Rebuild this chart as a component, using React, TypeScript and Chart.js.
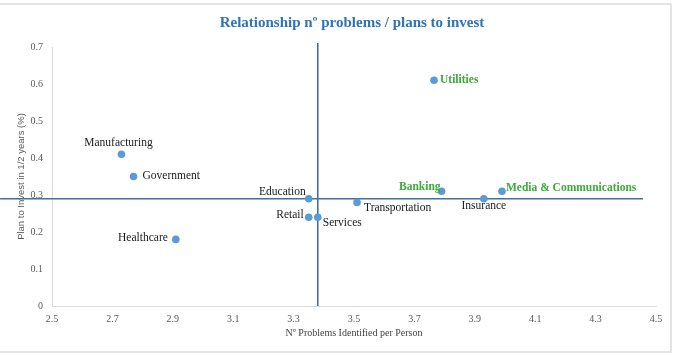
import React, { useEffect, useRef } from "react";
import { Chart, registerables } from "chart.js";

Chart.register(...registerables);

const CATEGORIES = [
  "Manufacturing",
  "Government",
  "Healthcare",
  "Education",
  "Retail",
  "Services",
  "Transportation",
  "Utilities",
  "Banking",
  "Insurance",
  "Media & Communications",
];
const PROBLEMS_PER_PERSON = [2.73, 2.77, 2.91, 3.35, 3.35, 3.38, 3.51, 3.765, 3.79, 3.93, 3.99];
const PLAN_TO_INVEST = [0.41, 0.35, 0.18, 0.29, 0.24, 0.24, 0.28, 0.61, 0.31, 0.29, 0.31];
const HIGHLIGHTED = ["Utilities", "Banking", "Media & Communications"];

const AVG_PROBLEMS = 3.38;
const AVG_INVEST = 0.29;
const H_LINE_X = [2.328, 4.457];
const V_LINE_Y = [0, 0.711];

const X_MIN = 2.5;
const X_MAX = 4.5;
const X_STEP = 0.2;
const Y_MIN = 0;
const Y_MAX = 0.7;
const Y_STEP = 0.1;

const TITLE = "Relationship nº problems / plans to invest";
const X_TITLE = "Nº Problems Identified per Person";
const Y_TITLE = "Plan to Invest in 1/2 years (%)";

const SERIF = "'Liberation Serif', 'Times New Roman', serif";
const SANS = "'Liberation Sans', Arial, sans-serif";

// label placement: [textAlign, dx, dy]
const PLACEMENT: Record<string, [CanvasTextAlign, number, number]> = {
  Manufacturing: ["center", -3, -11],
  Government: ["left", 9, -1],
  Healthcare: ["right", -8, -1],
  Education: ["right", -3, -7],
  Retail: ["right", -5, -2],
  Services: ["left", 5, 6],
  Transportation: ["left", 7, 6],
  Utilities: ["left", 6, 0],
  Banking: ["right", -1, -4],
  Insurance: ["center", 0, 7],
  "Media & Communications": ["left", 4, -3],
};

const decorPlugin = {
  id: "decor",
  beforeDraw(chart: any) {
    const ctx = chart.ctx;
    ctx.save();
    ctx.fillStyle = "#ffffff";
    ctx.fillRect(0, 0, chart.width, chart.height);
    ctx.strokeStyle = "#e4e4e4";
    ctx.lineWidth = 2;
    ctx.strokeRect(-2, 4, 673, 348);
    ctx.fillStyle = "#2E75B6";
    ctx.font = `bold 15px ${SERIF}`;
    ctx.textAlign = "center";
    ctx.textBaseline = "middle";
    ctx.fillText(TITLE, 352, 23);
    ctx.restore();
  },
  afterDatasetsDraw(chart: any) {
    const ctx = chart.ctx;
    const meta = chart.getDatasetMeta(0);
    ctx.save();
    ctx.textBaseline = "middle";
    CATEGORIES.forEach((name, i) => {
      const el = meta.data[i];
      if (!el) return;
      const [align, dx, dy] = PLACEMENT[name] || ["left", 6, 0];
      const hl = HIGHLIGHTED.includes(name);
      ctx.font = `${hl ? "bold " : ""}11.5px ${SERIF}`;
      ctx.fillStyle = hl ? "#3DAA3A" : "#1a1a1a";
      ctx.textAlign = align;
      ctx.fillText(name, el.x + dx, el.y + dy);
    });
    ctx.restore();
  },
};

export default function App() {
  const ref = useRef<HTMLCanvasElement | null>(null);

  useEffect(() => {
    document.body.style.margin = "0";
    const canvas = ref.current;
    if (!canvas) return;
    const points = PROBLEMS_PER_PERSON.map((x, i) => ({ x, y: PLAN_TO_INVEST[i] }));
    const chart = new Chart(canvas, {
      type: "scatter",
      data: {
        datasets: [
          {
            label: "Industries",
            data: points,
            backgroundColor: "#5B9BD5",
            borderWidth: 0,
            pointRadius: 3.8,
            pointHoverRadius: 3.8,
          },
          {
            label: "Avg invest",
            type: "line",
            data: H_LINE_X.map((x) => ({ x, y: AVG_INVEST })),
            borderColor: "#41709C",
            borderWidth: 1.6,
            pointRadius: 0,
            showLine: true,
            clip: false as any,
          } as any,
          {
            label: "Avg problems",
            type: "line",
            data: V_LINE_Y.map((y) => ({ x: AVG_PROBLEMS, y })),
            borderColor: "#41709C",
            borderWidth: 1.6,
            pointRadius: 0,
            showLine: true,
            clip: false as any,
          } as any,
        ],
      },
      options: {
        responsive: false,
        animation: false,
        events: [],
        layout: { padding: { left: 0, top: 47, right: 20, bottom: 0 } },
        plugins: {
          legend: { display: false },
          tooltip: { enabled: false },
          title: { display: false },
        },
        scales: {
          x: {
            type: "linear",
            min: X_MIN,
            max: X_MAX,
            grid: { display: false, drawTicks: false },
            border: { display: true, color: "#d9d9d9", width: 1 },
            ticks: {
              stepSize: X_STEP,
              padding: 7,
              color: "#595959",
              font: { family: SERIF, size: 10 },
              callback: (v: any) => Number(v).toFixed(1),
            },
            title: {
              display: true,
              text: X_TITLE,
              color: "#404040",
              font: { family: SERIF, size: 10 },
              padding: { top: 0, bottom: 16 },
            },
            afterFit: (scale: any) => {
              scale.height = 355 - 306;
            },
          },
          y: {
            type: "linear",
            min: Y_MIN,
            max: Y_MAX,
            grid: { display: false, drawTicks: false },
            border: { display: true, color: "#d9d9d9", width: 1 },
            ticks: {
              stepSize: Y_STEP,
              padding: 9,
              color: "#595959",
              font: { family: SERIF, size: 10 },
              callback: (v: any) => (Number(v) === 0 ? "0" : Number(v).toFixed(1)),
            },
            title: {
              display: true,
              text: Y_TITLE,
              color: "#595959",
              font: { family: SANS, size: 9.5 },
              padding: { top: 16, bottom: 0 },
            },
            afterFit: (scale: any) => {
              scale.width = 52;
            },
          },
        },
      },
      plugins: [decorPlugin],
    } as any);
    return () => chart.destroy();
  }, []);

  return (
    <div style={{ width: 676, height: 355 }}>
      <canvas ref={ref} width={676} height={355} style={{ display: "block" }} />
    </div>
  );
}
